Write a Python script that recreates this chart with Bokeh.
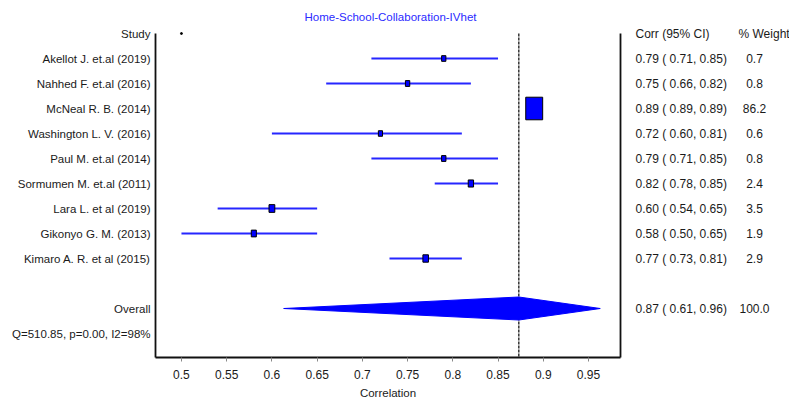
from bokeh.plotting import figure
from bokeh.models import (Range1d, LinearAxis, FixedTicker, NumeralTickFormatter,
                          ColumnDataSource)
from bokeh.core.properties import value
from bokeh.embed import file_html
from bokeh.resources import INLINE

# ---------------- data ----------------
studies = ["Akellot J. et.al (2019)", "Nahhed F. et.al (2016)", "McNeal R. B. (2014)",
           "Washington L. V. (2016)", "Paul M. et.al (2014)", "Sormumen M. et.al (2011)",
           "Lara L. et al (2019)", "Gikonyo G. M. (2013)", "Kimaro A. R. et al (2015)"]
corr = [0.79, 0.75, 0.89, 0.72, 0.79, 0.82, 0.60, 0.58, 0.77]
ci_lo = [0.71, 0.66, 0.89, 0.60, 0.71, 0.78, 0.54, 0.50, 0.73]
ci_hi = [0.85, 0.82, 0.89, 0.81, 0.85, 0.85, 0.65, 0.65, 0.81]
weight = [0.7, 0.8, 86.2, 0.6, 0.8, 2.4, 3.5, 1.9, 2.9]
overall_est = 0.873
overall_lo = 0.613
overall_hi = 0.963
overall_weight = 100.0
het_text = "Q=510.85, p=0.00, I2=98%"
title_text = "Home-School-Collaboration-IVhet"
x_ticks = [0.5, 0.55, 0.6, 0.65, 0.7, 0.75, 0.8, 0.85, 0.9, 0.95]

# ---------------- layout ----------------
W, H = 789, 405
FL, FR, FT, FB = 155, 620, 33, 357      # forest panel box, pixels
XMIN, XMAX = 0.4713, 0.9854
ROW = 25.0
SCALE = (FR - FL) / (XMAX - XMIN)

def xpx(px):
    return XMIN + (px - FL) / SCALE

def ypx(py):
    return (py - FT) / ROW

FONT = "Liberation Sans"
TXT = "#1a1a1a"
BLUE = "#0000ff"

p = figure(width=W, height=H, output_backend="svg", toolbar_location=None,
           x_range=Range1d(xpx(0), xpx(W)), y_range=Range1d(ypx(H), ypx(0)),
           min_border=0, x_axis_type=None, y_axis_type=None)
p.outline_line_color = None
p.xgrid.grid_line_color = None
p.ygrid.grid_line_color = None
p.background_fill_color = "white"
p.border_fill_color = "white"

y_bottom = ypx(FB)

# bottom axis (placed at the bottom of the forest panel)
xa = LinearAxis(ticker=FixedTicker(ticks=x_ticks),
                formatter=NumeralTickFormatter(format="0.[00]"),
                axis_label="Correlation", fixed_location=y_bottom,
                bounds=(XMIN, XMAX))
xa.axis_line_color = "#111111"
xa.axis_line_width = 2
xa.major_tick_out = 4
xa.major_tick_in = 0
xa.major_tick_line_color = "#888888"
xa.minor_tick_line_color = None
xa.major_label_standoff = 8
xa.major_label_text_font = FONT
xa.major_label_text_font_size = "12px"
xa.major_label_text_color = TXT
xa.axis_label_text_font = FONT
xa.axis_label_text_font_size = "11.5px"
xa.axis_label_text_font_style = "normal"
xa.axis_label_text_color = TXT
xa.axis_label_standoff = 5
p.add_layout(xa, "below")

# left and right panel borders
p.segment(x0=[XMIN, XMAX], y0=[0, 0], x1=[XMIN, XMAX], y1=[y_bottom, y_bottom],
          line_color="#111111", line_width=1.8)

rows = list(range(1, len(studies) + 1))
overall_row = len(studies) + 2
het_row = overall_row + 1

# reference dashed line at the pooled estimate
p.segment(x0=[overall_est], y0=[0], x1=[overall_est], y1=[y_bottom],
          line_color="black", line_width=1.2, line_dash="3 1")

# CI lines and study boxes
src = ColumnDataSource(dict(
    y=rows, corr=corr, lo=ci_lo, hi=ci_hi, w=weight,
    hgt=[4 + 2 * w ** 0.5 for w in weight],
    wid=[0.75 * (4 + 2 * w ** 0.5) for w in weight],
))
p.segment(x0="lo", y0="y", x1="hi", y1="y", source=src, line_color=BLUE,
          line_width=2, line_alpha=0.85)
p.rect(x="corr", y="y", width="wid", height="hgt", width_units="screen",
       height_units="screen", source=src, fill_color=BLUE,
       line_color="black", line_width=1)

# overall diamond
dh = 0.46
p.patch(x=[overall_lo, overall_est, overall_hi, overall_est],
        y=[overall_row, overall_row - dh, overall_row, overall_row + dh],
        fill_color=BLUE, line_color=BLUE, line_width=1)

# tiny dot near top
p.scatter(x=[0.5], y=[0], size=2, color="black")

# left labels
left_y = [0] + rows + [overall_row, het_row]
left_t = ["Study"] + studies + ["Overall", het_text]
p.text(x=[xpx(150)] * len(left_t), y=left_y, text=left_t, text_align="right",
       text_baseline="middle", text_font=value(FONT), text_font_size="11.5px",
       text_color=TXT)

# right columns
ci_texts = [f"{c:.2f} ( {l:.2f}, {h:.2f})" for c, l, h in zip(corr, ci_lo, ci_hi)]
ci_texts.append(f"{overall_est:.2f} ( {overall_lo:.2f}, {overall_hi:.2f})")
w_texts = [f"{w:.1f}" for w in weight] + [f"{overall_weight:.1f}"]
yr = rows + [overall_row]
p.text(x=[xpx(635)] * (len(yr) + 1), y=[0] + yr, text=["Corr (95% CI)"] + ci_texts,
       text_align="left", text_baseline="middle", text_font=value(FONT),
       text_font_size="12px", text_color=TXT)
p.text(x=[xpx(754)] * len(yr), y=yr, text=w_texts, text_align="center",
       text_baseline="middle", text_font=value(FONT), text_font_size="12px",
       text_color=TXT)
p.text(x=[xpx(738)], y=[0], text=["% Weight"], text_align="left",
       text_baseline="middle", text_font=value(FONT), text_font_size="12px",
       text_color=TXT)

# title
p.text(x=[xpx(390)], y=[ypx(16)], text=[title_text], text_align="center",
       text_baseline="middle", text_font=value(FONT), text_font_size="11.5px",
       text_color="#2a2aff")

open("out.html", "w").write(file_html(p, INLINE))
